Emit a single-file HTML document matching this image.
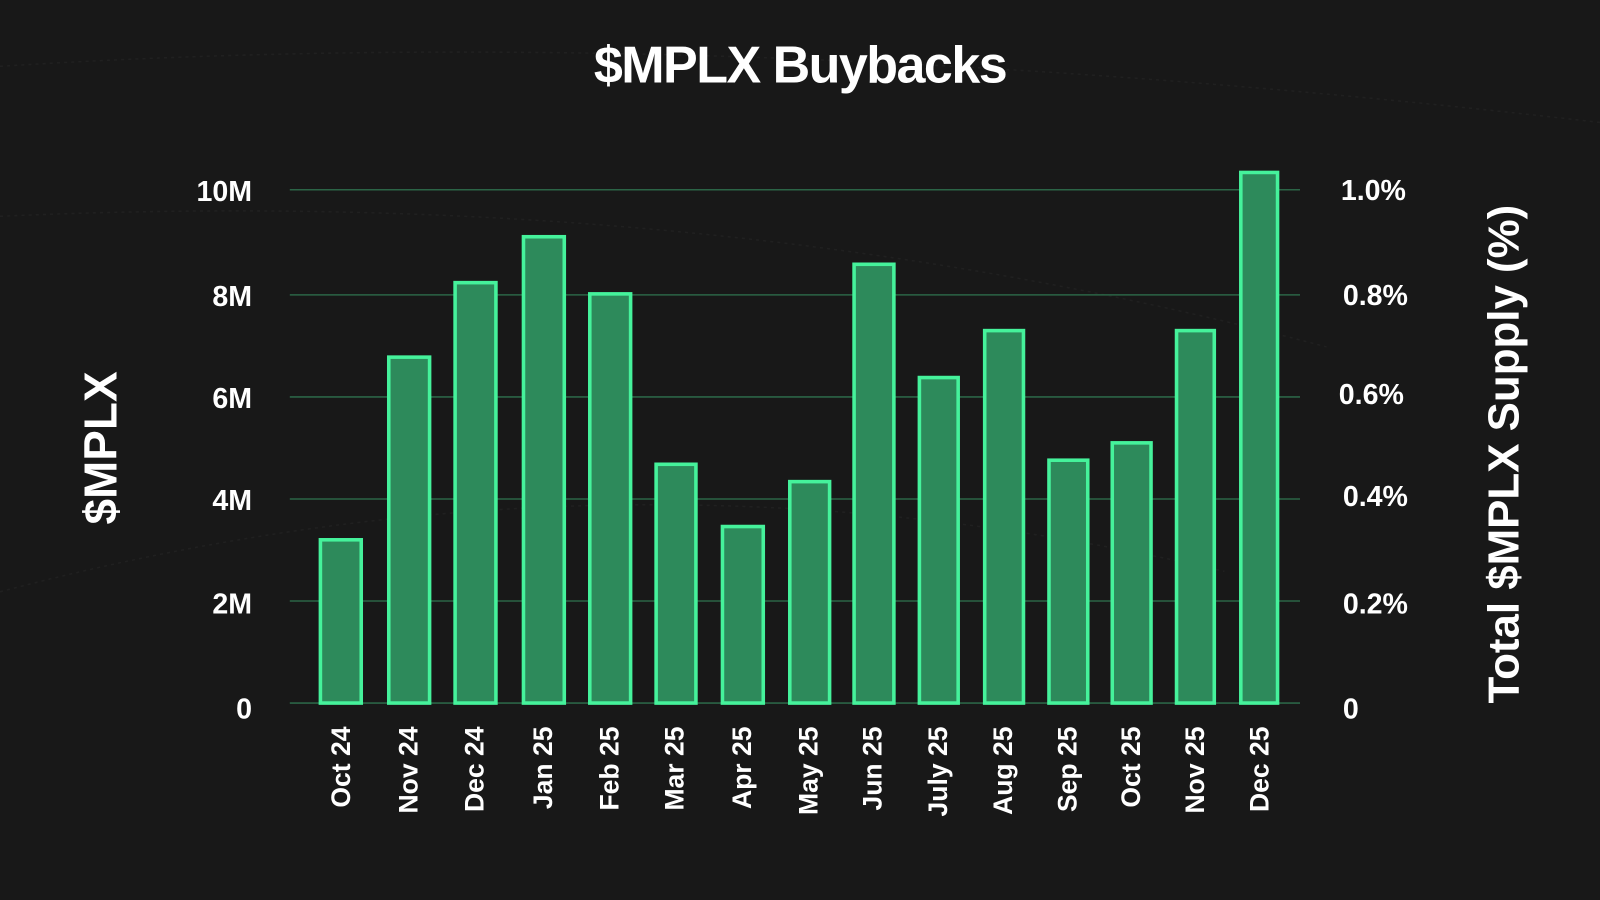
<!DOCTYPE html>
<html><head><meta charset="utf-8"><style>
html,body{margin:0;padding:0;background:#181818;width:1600px;height:900px;overflow:hidden}
svg{display:block}
text{font-family:"Liberation Sans",sans-serif;fill:#fff;font-weight:bold}
</style></head><body>
<svg width="1600" height="900" viewBox="0 0 1568 882" preserveAspectRatio="none">
<rect width="1568" height="882" fill="#181818"/>
<path d="M0 65 Q700 20 1568 120" stroke="#202020" fill="none" stroke-width="1.5" stroke-dasharray="3 4"/>
<path d="M0 212 Q700 180 1300 340" stroke="#202020" fill="none" stroke-width="1.5" stroke-dasharray="3 4"/>
<path d="M0 580 Q600 420 1200 560" stroke="#202020" fill="none" stroke-width="1.5" stroke-dasharray="3 4"/>
<text x="784" y="81" text-anchor="middle" font-size="51" letter-spacing="-1.5">$MPLX Buybacks</text>
<g stroke="#2b6446" stroke-width="1.5">
<line x1="284" y1="186" x2="1274" y2="186"/>
<line x1="284" y1="289" x2="1274" y2="289"/>
<line x1="284" y1="389" x2="1274" y2="389"/>
<line x1="284" y1="489" x2="1274" y2="489"/>
<line x1="284" y1="589" x2="1274" y2="589"/>
<line x1="284" y1="689" x2="1274" y2="689"/>
</g>
<g font-size="28" text-anchor="end">
<text x="247" y="197">10M</text><text x="247" y="300">8M</text><text x="247" y="400">6M</text>
<text x="247" y="500">4M</text><text x="247" y="601">2M</text><text x="247" y="704">0</text>
</g>
<g font-size="28">
<text x="1314" y="196">1.0%</text><text x="1316" y="299">0.8%</text><text x="1312" y="396">0.6%</text>
<text x="1316" y="496">0.4%</text><text x="1316" y="601">0.2%</text><text x="1316" y="704">0</text>
</g>
<text transform="translate(114,439) rotate(-90)" text-anchor="middle" font-size="45">$MPLX</text>
<text transform="translate(1488,445) rotate(-90)" text-anchor="middle" font-size="43">Total $MPLX Supply (%)</text>
<g fill="#2d8a5b" stroke="#45f29b" stroke-width="3.5">
<rect x="314" y="529" width="40" height="160"/>
<rect x="381" y="350" width="40" height="339"/>
<rect x="446" y="277" width="40" height="412"/>
<rect x="513" y="232" width="40" height="457"/>
<rect x="578" y="288" width="40" height="401"/>
<rect x="643" y="455" width="39" height="234"/>
<rect x="708" y="516" width="40" height="173"/>
<rect x="774" y="472" width="39" height="217"/>
<rect x="837" y="259" width="39" height="430"/>
<rect x="901" y="370" width="38" height="319"/>
<rect x="965" y="324" width="38" height="365"/>
<rect x="1028" y="451" width="38" height="238"/>
<rect x="1090" y="434" width="38" height="255"/>
<rect x="1153" y="324" width="37" height="365"/>
<rect x="1216" y="169" width="36" height="520"/>
</g>
<g font-size="26" text-anchor="end">
<text transform="translate(343,712) rotate(-90)">Oct 24</text>
<text transform="translate(409,712) rotate(-90)">Nov 24</text>
<text transform="translate(474,712) rotate(-90)">Dec 24</text>
<text transform="translate(541,712) rotate(-90)">Jan 25</text>
<text transform="translate(606,712) rotate(-90)">Feb 25</text>
<text transform="translate(670,712) rotate(-90)">Mar 25</text>
<text transform="translate(736,712) rotate(-90)">Apr 25</text>
<text transform="translate(801,712) rotate(-90)">May 25</text>
<text transform="translate(864,712) rotate(-90)">Jun 25</text>
<text transform="translate(928,712) rotate(-90)">July 25</text>
<text transform="translate(992,712) rotate(-90)">Aug 25</text>
<text transform="translate(1055,712) rotate(-90)">Sep 25</text>
<text transform="translate(1117,712) rotate(-90)">Oct 25</text>
<text transform="translate(1180,712) rotate(-90)">Nov 25</text>
<text transform="translate(1243,712) rotate(-90)">Dec 25</text>
</g>
</svg>
</body></html>
